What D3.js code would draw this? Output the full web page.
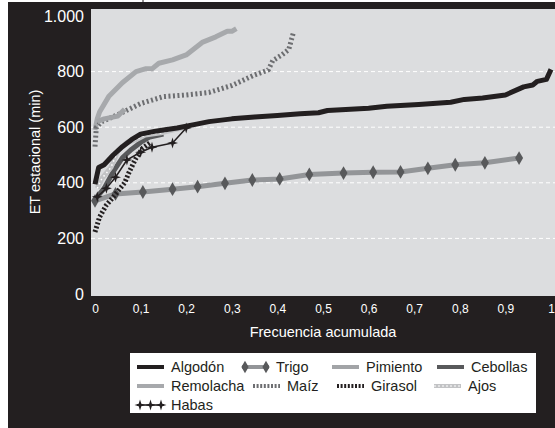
<!doctype html>
<html>
<head>
<meta charset="utf-8">
<script src="https://d3js.org/d3.v7.min.js"></script>
<style>
  body { margin:0; background:white; }
  text { font-family: "Liberation Sans", Arial, sans-serif; }
</style>
</head>
<body>
<svg id="chart" width="555" height="428"></svg>
<script>
// frecuencia acumulada vs ET estacional (mm)
var algodon = [[0,395],[0.008,455],[0.02,465],[0.04,500],[0.06,530],[0.08,555],[0.1,575],[0.13,585],[0.15,590],[0.18,597],[0.22,610],[0.25,620],[0.3,630],[0.35,637],[0.4,642],[0.45,648],[0.49,652],[0.51,660],[0.6,668],[0.64,675],[0.71,682],[0.78,690],[0.81,700],[0.85,705],[0.9,716],[0.94,745],[0.96,752],[0.97,765],[0.99,772],[1.0,808]]
var trigo = [[0,335],[0.045,360],[0.105,367],[0.17,377],[0.225,386],[0.285,398],[0.345,410],[0.405,414],[0.47,430],[0.545,435],[0.61,438],[0.67,439],[0.73,452],[0.79,465],[0.855,472],[0.93,489]]
var pimiento = [[0.005,620],[0.02,630],[0.05,640],[0.065,665]]
var cebollas = [[0,340],[0.02,380],[0.04,440],[0.06,490],[0.08,520],[0.1,545],[0.12,565],[0.15,575]]
var remolacha = [[0,590],[0.005,630],[0.01,655],[0.03,710],[0.06,760],[0.09,800],[0.11,810],[0.125,810],[0.14,830],[0.17,842],[0.2,860],[0.235,905],[0.265,925],[0.29,945],[0.3,945],[0.31,955]]
var maiz = [[0,530],[0.003,600],[0.015,620],[0.05,645],[0.1,685],[0.15,710],[0.2,716],[0.25,725],[0.3,750],[0.35,788],[0.38,806],[0.39,840],[0.41,860],[0.425,880],[0.435,940]]
var girasol = [[0,223],[0.01,277],[0.025,320],[0.04,349],[0.065,400],[0.075,439],[0.09,489],[0.105,525],[0.12,543]]
var ajos = [[0.005,380],[0.015,415],[0.035,455],[0.05,515],[0.07,545],[0.09,555],[0.11,572],[0.145,580],[0.17,590],[0.2,600]]
var habas = [[0.005,350],[0.025,380],[0.045,420],[0.07,482],[0.1,510],[0.125,528],[0.17,543],[0.2,597]]

var names = ["Algodón","Trigo","Pimiento","Cebollas","Remolacha","Maíz","Girasol","Ajos","Habas"]
var xTicks = [0,0.1,0.2,0.3,0.4,0.5,0.6,0.7,0.8,0.9,1]
var xLabels = ["0","0,1","0,2","0,3","0,4","0,5","0,6","0,7","0,8","0,9","1"]
var yTicks = [0,200,400,600,800,1000]
var yLabels = ["0","200","400","600","800","1.000"]
var gridValues = [200,400,600,800]

var seriesData = [algodon,trigo,pimiento,cebollas,remolacha,maiz,girasol,ajos,habas]

// how each line is drawn
var styles = [
  {color:"#231f20", width:5},
  {color:"#939598", width:5, marker:"diamond"},
  {color:"#a2a4a7", width:5},
  {color:"#58595b", width:5},
  {color:"#a7a9ac", width:5},
  {color:"#6d6e71", width:5, dash:"2,2.5"},
  {color:"#231f20", width:5, dash:"2,2"},
  {color:"#c2c3c5", width:5, inner:true},
  {color:"#231f20", width:1.5, marker:"star"}
]
var drawOrder = [1,4,5,2,3,7,6,0,8]

// legend placement
var legX = [137,242,332,437,137,253,337,434,137]
var legRow = [0,0,0,0,1,1,1,1,2]

var svg = d3.select("#chart")
var W = 555, H = 428

svg.append("rect").attr("x",8).attr("y",2).attr("width",W-8).attr("height",H-2).attr("fill","#231f20")
svg.append("line").attr("x1",143).attr("x2",143).attr("y1",0).attr("y2",3).attr("stroke","#231f20").attr("stroke-width",1)

var x = d3.scaleLinear().domain([0,1]).range([95,551])
var y = d3.scaleLinear().domain([0,1000]).range([294,16])

svg.append("rect").attr("x",91).attr("y",9).attr("width",W-91).attr("height",287).attr("fill","#dcdddf")

svg.append("g").selectAll("line").data(gridValues).enter().append("line")
  .attr("x1",91).attr("x2",W)
  .attr("y1",function(d){ return y(d) }).attr("y2",function(d){ return y(d) })
  .attr("stroke","white").attr("stroke-width",1).attr("stroke-dasharray","4,3")

var xAxis = svg.append("g").attr("transform","translate(0,296)")
  .call(d3.axisBottom(x).tickValues(xTicks).tickSize(0).tickPadding(8).tickFormat(function(d,i){ return xLabels[i] }))
xAxis.select(".domain").remove()
xAxis.selectAll("text").attr("fill","white").style("font-size","12px").style("font-family","'Liberation Sans', Arial, sans-serif")

var yAxis = svg.append("g").attr("transform","translate(91,0)")
  .call(d3.axisLeft(y).tickValues(yTicks).tickSize(0).tickPadding(7).tickFormat(function(d,i){ return yLabels[i] }))
yAxis.select(".domain").remove()
yAxis.selectAll("text").attr("fill","white").style("font-size","16px").style("font-family","'Liberation Sans', Arial, sans-serif")

svg.append("text").attr("transform","translate(40,152) rotate(-90)").attr("text-anchor","middle")
  .attr("fill","white").style("font-size","14.5px").text("ET estacional (min)")
svg.append("text").attr("x",323).attr("y",337).attr("text-anchor","middle")
  .attr("fill","white").style("font-size","14.5px").text("Frecuencia acumulada")

var line = d3.line().x(function(d){ return x(d[0]) }).y(function(d){ return y(d[1]) })
var starPath = "M0,-5.5L1.3,-1.3L5.5,0L1.3,1.3L0,5.5L-1.3,1.3L-5.5,0L-1.3,-1.3Z"
var diamond = d3.symbol().type(d3.symbolDiamond).size(55)

var plot = svg.append("g")
drawOrder.forEach(function(k){
  var s = styles[k]
  plot.append("path").datum(seriesData[k]).attr("fill","none")
    .attr("stroke",s.color).attr("stroke-width",s.width)
    .attr("stroke-dasharray",s.dash || null)
    .attr("stroke-linejoin","round").attr("d",line)
  if(s.inner){
    plot.append("path").datum(seriesData[k]).attr("fill","none")
      .attr("stroke","white").attr("stroke-width",1.5).attr("stroke-dasharray","1.5,3").attr("d",line)
  }
  if(s.marker=="diamond"){
    plot.selectAll(null).data(seriesData[k]).enter().append("path")
      .attr("d",diamond).attr("fill","#58595b")
      .attr("transform",function(d){ return "translate("+x(d[0])+","+y(d[1])+")" })
  }
  if(s.marker=="star"){
    plot.selectAll(null).data(seriesData[k]).enter().append("path")
      .attr("d",starPath).attr("fill","#231f20")
      .attr("transform",function(d){ return "translate("+x(d[0])+","+y(d[1])+")" })
  }
})

// legend
svg.append("rect").attr("x",130).attr("y",353).attr("width",406).attr("height",60).attr("fill","white")
var leg = svg.append("g")
names.forEach(function(n,i){
  var s = styles[i]
  var lx = legX[i], ly = 367 + legRow[i]*19
  leg.append("line").attr("x1",lx).attr("x2",lx+27).attr("y1",ly).attr("y2",ly)
    .attr("stroke",s.color).attr("stroke-width",s.marker=="star" ? 1.5 : 4)
    .attr("stroke-dasharray",s.dash ? "2,1.6" : null)
  if(s.inner){
    leg.append("line").attr("x1",lx).attr("x2",lx+27).attr("y1",ly).attr("y2",ly)
      .attr("stroke","white").attr("stroke-width",1).attr("stroke-dasharray","2,2")
  }
  if(s.marker=="diamond"){
    [lx+3,lx+24].forEach(function(px){
      leg.append("path").attr("d",d3.symbol().type(d3.symbolDiamond).size(45)).attr("fill","#58595b")
        .attr("transform","translate("+px+","+ly+")")
    })
  }
  if(s.marker=="star"){
    [lx+3,lx+13.5,lx+24].forEach(function(px){
      leg.append("path").attr("d",starPath).attr("fill","#231f20").attr("transform","translate("+px+","+ly+")")
    })
  }
  leg.append("text").attr("x",lx+34).attr("y",ly+4.5).attr("fill","#231f20")
    .style("font-size","14.5px").text(n)
})
</script>
</body>
</html>
